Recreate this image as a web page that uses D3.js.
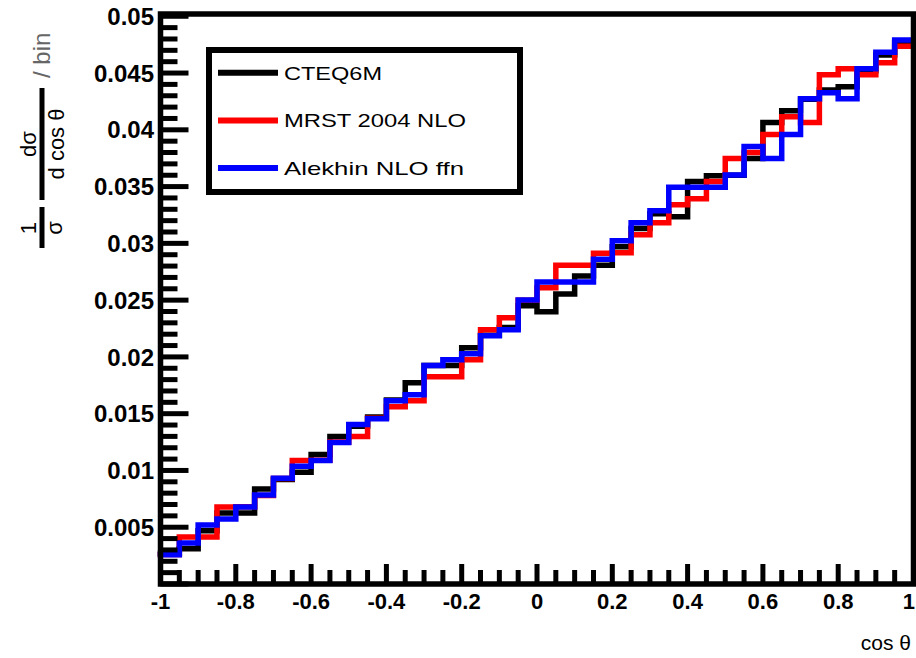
<!DOCTYPE html>
<html><head><meta charset="utf-8">
<script src="https://cdn.jsdelivr.net/npm/d3@7"></script>
<style>body{margin:0;background:#fff}svg{display:block}</style>
</head><body><svg id="c" width="916" height="658"></svg>
<script>
// ---- data ----
const binLowEdges = d3.range(40).map(i => -1 + i * 0.05);
const xTickValues = [-1, -0.8, -0.6, -0.4, -0.2, 0, 0.2, 0.4, 0.6, 0.8, 1];
const xTickLabels = ["-1", "-0.8", "-0.6", "-0.4", "-0.2", "0", "0.2", "0.4", "0.6", "0.8", "1"];
const yTickValues = [0.005, 0.01, 0.015, 0.02, 0.025, 0.03, 0.035, 0.04, 0.045, 0.05];
const yTickLabels = ["0.005", "0.01", "0.015", "0.02", "0.025", "0.03", "0.035", "0.04", "0.045", "0.05"];
const seriesNames = ["CTEQ6M", "MRST 2004 NLO", "Alekhin NLO ffn"];
const cteq = [0.0027, 0.0031, 0.00468, 0.00625, 0.00625, 0.00836, 0.0092, 0.00985, 0.0114, 0.01298,
  0.0139, 0.0147, 0.0162, 0.01772, 0.01924, 0.01924, 0.02081, 0.0219, 0.0226, 0.0245,
  0.02397, 0.02555, 0.02713, 0.02807, 0.0297, 0.0313, 0.0326, 0.03234, 0.03544, 0.03596,
  0.0360, 0.03748, 0.04064, 0.04168, 0.0427, 0.0435, 0.04379, 0.0452, 0.0466, 0.0477];
const mrst = [0.0026, 0.00415, 0.00415, 0.00678, 0.0068, 0.0078, 0.0093, 0.01088, 0.0109, 0.0125,
  0.01298, 0.0146, 0.01561, 0.01614, 0.01825, 0.01825, 0.01976, 0.0224, 0.02344, 0.0250,
  0.02608, 0.02807, 0.02807, 0.02912, 0.02918, 0.03076, 0.03181, 0.0334, 0.03392, 0.03544,
  0.03748, 0.03801, 0.03958, 0.04116, 0.04064, 0.04485, 0.04537, 0.04485, 0.0459, 0.04737];
const alekhin = [0.00257, 0.00362, 0.0052, 0.00573, 0.00678, 0.00783, 0.00932, 0.01038, 0.01088, 0.01246,
  0.01404, 0.01456, 0.01614, 0.01667, 0.01924, 0.01976, 0.02028, 0.02187, 0.0224, 0.02502,
  0.0266, 0.0266, 0.0266, 0.0286, 0.03023, 0.03181, 0.03287, 0.03494, 0.03494, 0.03494,
  0.03602, 0.03853, 0.03748, 0.03958, 0.04274, 0.04327, 0.04274, 0.04537, 0.04684, 0.0479];
const seriesColors = ["#000000", "#ff0000", "#0000ff"];

// ---- layout ----
const L = 160.5, R = 913.5, T = 14, B = 584;
const svg = d3.select("#c");
svg.append("rect").attr("width", 916).attr("height", 658).attr("fill", "#fff");
const x = d3.scaleLinear().domain([-1, 1]).range([L, R]);
const y = d3.scaleLinear().domain([0, 0.0502]).range([B, T]);
const FONT = "'Liberation Sans', Arial, Helvetica, sans-serif";

// histograms
const step = d3.line().x(d => x(d[0])).y(d => y(d[1])).curve(d3.curveStepAfter);
[cteq, mrst, alekhin].forEach((vals, k) => {
  const pts = binLowEdges.map((e, i) => [e, vals[i]]);
  pts.push([1, vals[vals.length - 1]]);
  svg.append("path").attr("d", step(pts)).attr("fill", "none")
    .attr("stroke", seriesColors[k]).attr("stroke-width", 5.5).attr("stroke-linejoin", "miter").attr("stroke-linecap", "square");
});

// ticks
const tk = svg.append("g").attr("stroke", "#000").attr("stroke-width", 5);
d3.range(41).map(i => -1 + i * 0.05).forEach((v, i) => {
  const major = i % 4 === 0;
  tk.append("line").attr("x1", x(v)).attr("x2", x(v)).attr("y1", B).attr("y2", B - (major ? 20 : 14));
});
d3.range(51).map(i => i * 0.001).forEach((v, i) => {
  const major = i % 5 === 0;
  tk.append("line").attr("x1", L).attr("x2", L + (major ? 28 : 17)).attr("y1", y(v)).attr("y2", y(v));
});

// frame
svg.append("rect").attr("x", L).attr("y", T).attr("width", R - L).attr("height", B - T)
  .attr("fill", "none").attr("stroke", "#000").attr("stroke-width", 5.5);

// tick labels
xTickValues.forEach((v, i) => {
  const last = i === xTickValues.length - 1;
  svg.append("text").attr("x", last ? 915 : x(v)).attr("y", 609).attr("text-anchor", last ? "end" : "middle")
    .attr("font-family", FONT).attr("font-weight", "bold").attr("font-size", 22).text(xTickLabels[i]);
});
yTickValues.forEach((v, i) => {
  svg.append("text").attr("x", 154).attr("y", y(v)).attr("dy", "0.36em").attr("text-anchor", "end")
    .attr("font-family", FONT).attr("font-weight", "bold").attr("font-size", 24).text(yTickLabels[i]);
});

// x title
svg.append("text").attr("x", 911).attr("y", 650).attr("text-anchor", "end")
  .attr("font-family", FONT).attr("font-size", 21).text("cos θ");

// y title
const yt = svg.append("g").attr("transform", "translate(42,250) rotate(-90)")
  .attr("font-family", FONT).attr("font-size", 22);
yt.append("line").attr("x1", 2).attr("x2", 43).attr("y1", 0).attr("y2", 0).attr("stroke", "#000").attr("stroke-width", 5);
yt.append("text").attr("x", 22).attr("y", -6).attr("text-anchor", "middle").text("1");
yt.append("text").attr("x", 22).attr("y", 20).attr("text-anchor", "middle").text("σ");
yt.append("line").attr("x1", 50).attr("x2", 162).attr("y1", 0).attr("y2", 0).attr("stroke", "#000").attr("stroke-width", 5);
yt.append("text").attr("x", 106).attr("y", -6).attr("text-anchor", "middle").text("dσ");
yt.append("text").attr("x", 106).attr("y", 22).attr("text-anchor", "middle").text("d cos θ");
yt.append("text").attr("x", 172).attr("y", 8).attr("font-size", 24).attr("fill", "#666").text("/ bin");

// legend
const lg = svg.append("g");
lg.append("rect").attr("x", 209).attr("y", 50).attr("width", 311).attr("height", 142)
  .attr("fill", "#fff").attr("stroke", "#000").attr("stroke-width", 6);
const legW = [98, 182, 180];
seriesNames.forEach((n, i) => {
  const yy = 72.7 + i * 47.7;
  lg.append("line").attr("x1", 218).attr("x2", 278).attr("y1", yy).attr("y2", yy)
    .attr("stroke", seriesColors[i]).attr("stroke-width", 6);
  lg.append("text").attr("x", 284).attr("y", yy).attr("dy", "0.36em")
    .attr("font-family", FONT).attr("font-size", 19)
    .attr("textLength", legW[i]).attr("lengthAdjust", "spacingAndGlyphs").text(n);
});
</script>
</body></html>
